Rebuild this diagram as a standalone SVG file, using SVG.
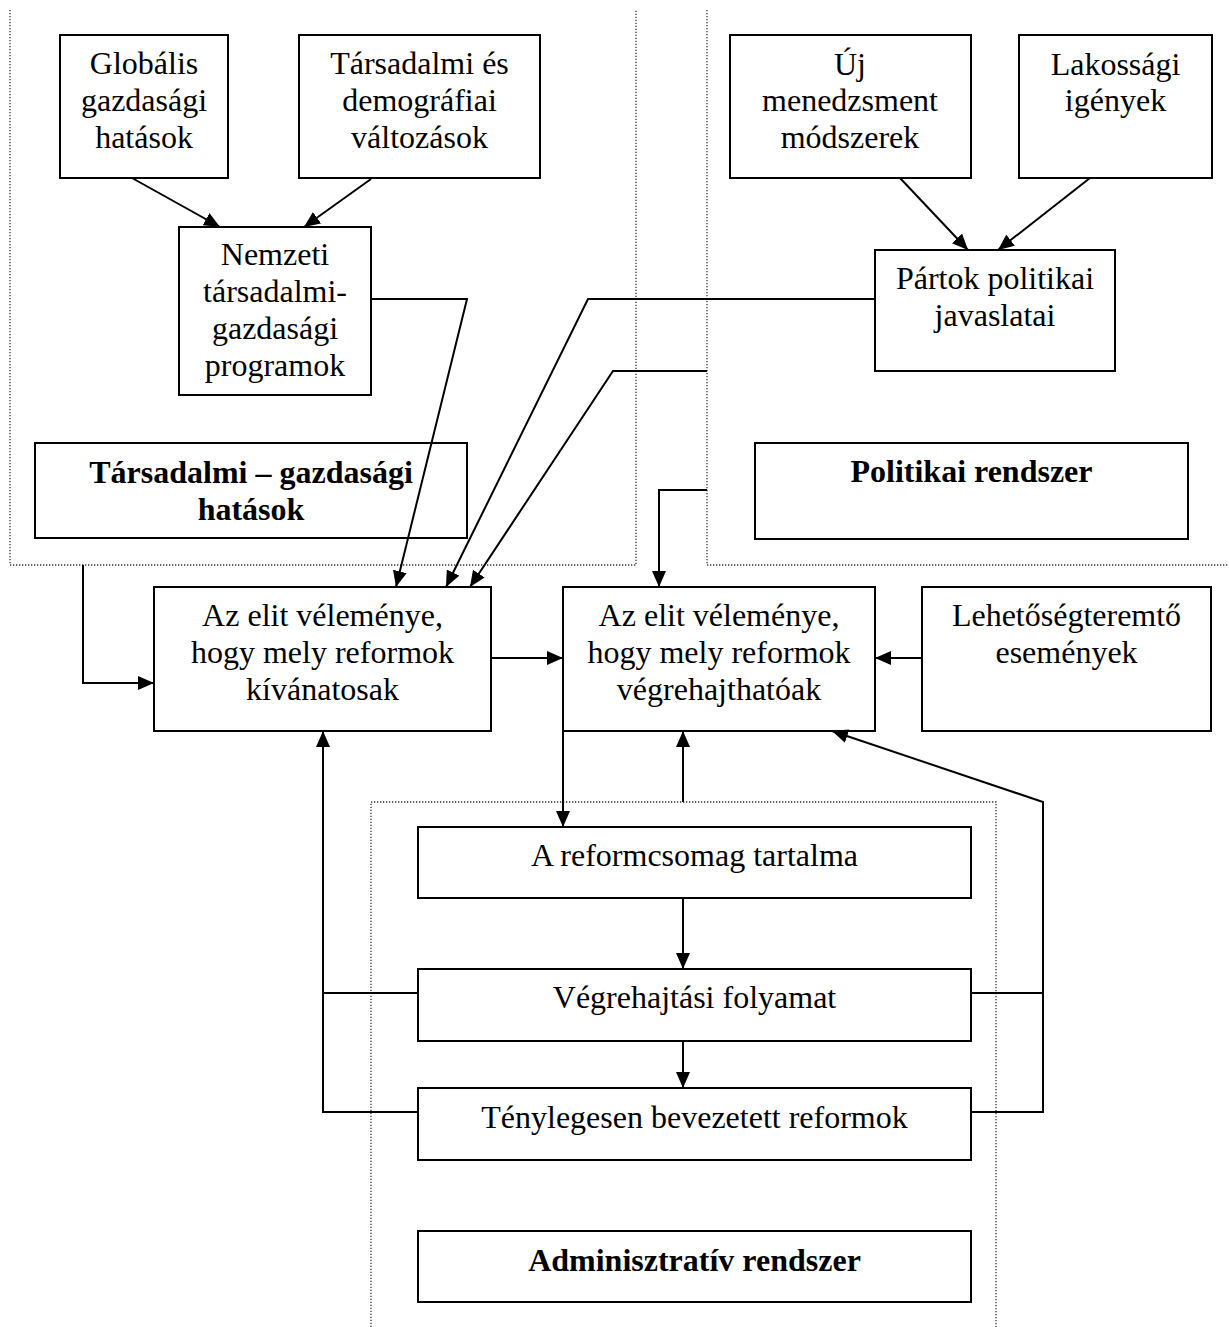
<svg xmlns="http://www.w3.org/2000/svg" width="1229" height="1327" viewBox="0 0 1229 1327">
<defs>
<style>
.box{fill:#fff;stroke:#000;stroke-width:2}
.t{font-family:"Liberation Serif","Times New Roman",serif;font-size:32px;fill:#000;text-anchor:middle}
.b{font-weight:bold}
.c{fill:none;stroke:#000;stroke-width:2}
.d{fill:none;stroke:#333;stroke-width:1.3;stroke-dasharray:1.3,1.7}
</style>
<marker id="ah" markerUnits="userSpaceOnUse" markerWidth="17" markerHeight="14" refX="16" refY="7" orient="auto">
<path d="M0,0 L16,7 L0,14 z" fill="#000"/>
</marker>
</defs>
<rect width="1229" height="1327" fill="#fff"/>
<g id="regions">
<polyline class="d" points="10,10 10,565 636,565 636,10"/>
<polyline class="d" points="707,10 707,565 1229,565"/>
<polyline class="d" points="371,1327 371,802 996,802 996,1327"/>
</g>
<g id="n-globalis">
<rect class="box" x="60" y="35" width="168" height="143"/>
<text class="t" x="144" y="74">Globális</text>
<text class="t" x="144" y="111">gazdasági</text>
<text class="t" x="144" y="148">hatások</text>
</g>
<g id="n-tarsdem">
<rect class="box" x="299" y="35" width="241" height="143"/>
<text class="t" x="419.5" y="74">Társadalmi és</text>
<text class="t" x="419.5" y="111">demográfiai</text>
<text class="t" x="419.5" y="148">változások</text>
</g>
<g id="n-nemzeti">
<rect class="box" x="179" y="227" width="192" height="168"/>
<text class="t" x="275" y="265">Nemzeti</text>
<text class="t" x="275" y="302">társadalmi-</text>
<text class="t" x="275" y="339">gazdasági</text>
<text class="t" x="275" y="376">programok</text>
</g>
<g id="n-tarsgazd">
<rect class="box" x="35" y="443" width="432" height="95"/>
<text class="t b" x="251" y="483">Társadalmi – gazdasági</text>
<text class="t b" x="251" y="520">hatások</text>
</g>
<g id="n-uj">
<rect class="box" x="730" y="35" width="241" height="143"/>
<text class="t" x="850" y="75">Új</text>
<text class="t" x="850" y="111">menedzsment</text>
<text class="t" x="850" y="148">módszerek</text>
</g>
<g id="n-lakossagi">
<rect class="box" x="1019" y="35" width="193" height="143"/>
<text class="t" x="1115.5" y="75">Lakossági</text>
<text class="t" x="1115.5" y="111">igények</text>
</g>
<g id="n-partok">
<rect class="box" x="875" y="250" width="240" height="121"/>
<text class="t" x="995" y="289">Pártok politikai</text>
<text class="t" x="995" y="326">javaslatai</text>
</g>
<g id="n-politikai">
<rect class="box" x="755" y="443" width="433" height="96"/>
<text class="t b" x="971.5" y="482">Politikai rendszer</text>
</g>
<g id="n-kivanatos">
<rect class="box" x="154" y="587" width="337" height="144"/>
<text class="t" x="322.5" y="626">Az elit véleménye,</text>
<text class="t" x="322.5" y="663">hogy mely reformok</text>
<text class="t" x="322.5" y="700">kívánatosak</text>
</g>
<g id="n-vegrehajthato">
<rect class="box" x="563" y="587" width="312" height="144"/>
<text class="t" x="719" y="626">Az elit véleménye,</text>
<text class="t" x="719" y="663">hogy mely reformok</text>
<text class="t" x="719" y="700">végrehajthatóak</text>
</g>
<g id="n-lehetoseg">
<rect class="box" x="922" y="587" width="289" height="144"/>
<text class="t" x="1066.5" y="626">Lehetőségteremtő</text>
<text class="t" x="1066.5" y="663">események</text>
</g>
<g id="n-reformcsomag">
<rect class="box" x="418" y="827" width="553" height="71"/>
<text class="t" x="694.5" y="866">A reformcsomag tartalma</text>
</g>
<g id="n-vegrehajtasi">
<rect class="box" x="418" y="969" width="553" height="72"/>
<text class="t" x="694.5" y="1008">Végrehajtási folyamat</text>
</g>
<g id="n-tenyleges">
<rect class="box" x="418" y="1088" width="553" height="72"/>
<text class="t" x="694.5" y="1128">Ténylegesen bevezetett reformok</text>
</g>
<g id="n-adminisztrativ">
<rect class="box" x="418" y="1231" width="553" height="71"/>
<text class="t b" x="694.5" y="1271">Adminisztratív rendszer</text>
</g>
<g id="connectors">
<line class="c" x1="132" y1="178" x2="220" y2="227" marker-end="url(#ah)"/>
<line class="c" x1="371" y1="179" x2="304" y2="227" marker-end="url(#ah)"/>
<line class="c" x1="900" y1="178" x2="968" y2="250" marker-end="url(#ah)"/>
<line class="c" x1="1090" y1="178" x2="998" y2="250" marker-end="url(#ah)"/>
<polyline class="c" points="371,299 467,299 396,587" marker-end="url(#ah)"/>
<polyline class="c" points="875,299 588,299 446,587" marker-end="url(#ah)"/>
<polyline class="c" points="707,371 613,371 470,587" marker-end="url(#ah)"/>
<polyline class="c" points="707,490 659,490 659,587" marker-end="url(#ah)"/>
<polyline class="c" points="83,565 83,683 154,683" marker-end="url(#ah)"/>
<line class="c" x1="491" y1="658" x2="563" y2="658" marker-end="url(#ah)"/>
<line class="c" x1="922" y1="658" x2="875" y2="658" marker-end="url(#ah)"/>
<line class="c" x1="563" y1="731" x2="563" y2="827" marker-end="url(#ah)"/>
<line class="c" x1="683" y1="802" x2="683" y2="731" marker-end="url(#ah)"/>
<polyline class="c" points="971,1112 1043,1112 1043,802 832,731" marker-end="url(#ah)"/>
<line class="c" x1="971" y1="993" x2="1043" y2="993"/>
<polyline class="c" points="418,1112 323,1112 323,731" marker-end="url(#ah)"/>
<line class="c" x1="418" y1="993" x2="323" y2="993"/>
<line class="c" x1="683" y1="898" x2="683" y2="969" marker-end="url(#ah)"/>
<line class="c" x1="683" y1="1041" x2="683" y2="1088" marker-end="url(#ah)"/>
</g>
</svg>
